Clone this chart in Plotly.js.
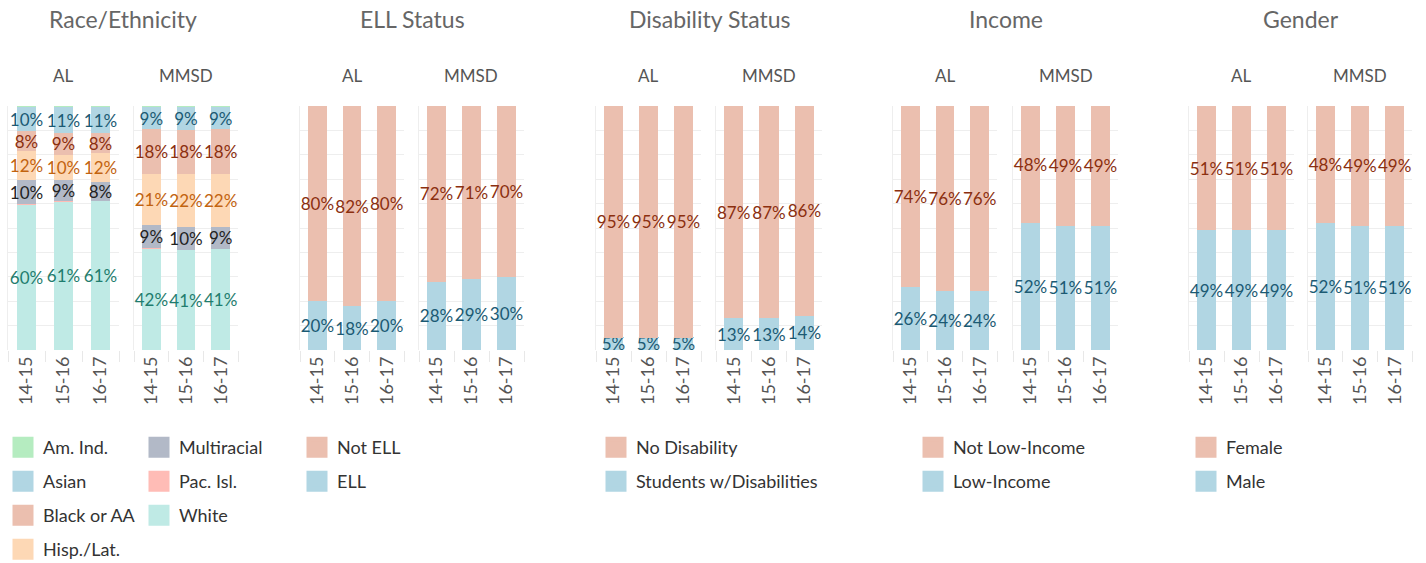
<!DOCTYPE html>
<html>
<head>
<meta charset="utf-8">
<script src="https://cdn.plot.ly/plotly-3.0.1.min.js"></script>
<style>html,body{margin:0;padding:0;background:#fff;}#chart{width:1426px;height:563px;}</style>
</head>
<body>
<div id="chart"></div>
<script>
// ---------- DATA ----------
const years = ['14-15', '15-16', '16-17'];
const groupTitles = ['Race/Ethnicity', 'ELL Status', 'Disability Status', 'Income', 'Gender'];
const districts = ['AL', 'MMSD'];

// Race/Ethnicity (% of students), AL and MMSD
const amIndAL = [0.5, 0.5, 0.5];
const amIndMMSD = [0.5, 0.5, 0.5];
const asianAL = [9.9, 10.6, 10.6];
const asianMMSD = [9.0, 9.4, 9.0];
const blackAL = [8.2, 8.9, 8.3];
const blackMMSD = [18.2, 17.8, 18.3];
const hispAL = [11.9, 10.2, 11.6];
const hispMMSD = [21.2, 21.7, 21.6];
const multiAL = [9.7, 8.8, 7.9];
const multiMMSD = [9.4, 9.6, 9.2];
const pacAL = [0.2, 0.2, 0.2];
const pacMMSD = [0.2, 0.2, 0.2];
const whiteAL = [59.6, 60.8, 60.9];
const whiteMMSD = [41.5, 40.8, 41.2];

// ELL Status
const ellAL = [20, 18, 20];
const notEllAL = [80, 82, 80];
const ellMMSD = [28, 29, 30];
const notEllMMSD = [72, 71, 70];

// Disability Status
const disAL = [5, 5, 5];
const noDisAL = [95, 95, 95];
const disMMSD = [13, 13, 14];
const noDisMMSD = [87, 87, 86];

// Income
const lowAL = [26, 24, 24];
const notLowAL = [74, 76, 76];
const lowMMSD = [52, 51, 51];
const notLowMMSD = [48, 49, 49];

// Gender
const maleAL = [49, 49, 49];
const femaleAL = [51, 51, 51];
const maleMMSD = [52, 51, 51];
const femaleMMSD = [48, 49, 49];

// ---------- STYLE ----------
const C = {
  amInd: '#b5ecc0', asian: '#b1d6e3', black: '#ebbfaf', hisp: '#fdd8b5',
  multi: '#b2b9c7', pac: '#ffbcb6', white: '#bfeae5'
};
const T = {
  blue: '#1b5a73', brown: '#8b2f0f', orange: '#c2630f', dark: '#222222', teal: '#1f7d6e'
};
const W = 1426, H = 563;
const yTop = 106, yBot = 350;
const panelPx = [[8,119],[134,238],[300,404],[419,524],[596,701],[716,822],[893,997],[1013,1118],[1189,1294],[1308,1412]];
const FONT = 'Lato, "Open Sans", sans-serif';

const pct = v => Math.round(v) + '%';

function bar(name, vals, color, txtColor, panel, showText) {
  const sfx = panel === 1 ? '' : String(panel);
  return {
    type: 'bar', name: name, x: years, y: vals,
    xaxis: 'x' + sfx, yaxis: 'y' + sfx,
    marker: {color: color, line: {width: 0}},
    text: showText ? vals.map(pct) : vals.map(() => ''),
    textposition: 'inside', insidetextanchor: 'middle', textangle: 0,
    constraintext: 'none', cliponaxis: false,
    textfont: {family: FONT, size: 17, color: txtColor},
    showlegend: false, hoverinfo: 'name+y'
  };
}
function legendItem(name, color, legend) {
  return {
    type: 'scatter', mode: 'markers', x: [null], y: [null], xaxis: 'x', yaxis: 'y',
    name: name, legend: legend, legendgroup: name, hoverinfo: 'skip',
    marker: {symbol: 'square', size: 16, color: color, line: {color: color, width: 5}}
  };
}

const data = [];
// Race (stack bottom -> top)
[[whiteAL, whiteMMSD, 'White', C.white, T.teal, true],
 [pacAL, pacMMSD, 'Pac. Isl.', C.pac, T.dark, false],
 [multiAL, multiMMSD, 'Multiracial', C.multi, T.dark, true],
 [hispAL, hispMMSD, 'Hisp./Lat.', C.hisp, T.orange, true],
 [blackAL, blackMMSD, 'Black or AA', C.black, T.brown, true],
 [asianAL, asianMMSD, 'Asian', C.asian, T.blue, true],
 [amIndAL, amIndMMSD, 'Am. Ind.', C.amInd, T.dark, false]
].forEach(r => {
  data.push(bar(r[2], r[0], r[3], r[4], 1, r[5]));
  data.push(bar(r[2], r[1], r[3], r[4], 2, r[5]));
});
// Two-category groups
[[ellAL, ellMMSD, notEllAL, notEllMMSD, 'ELL', 'Not ELL', 3],
 [disAL, disMMSD, noDisAL, noDisMMSD, 'Students w/Disabilities', 'No Disability', 5],
 [lowAL, lowMMSD, notLowAL, notLowMMSD, 'Low-Income', 'Not Low-Income', 7],
 [maleAL, maleMMSD, femaleAL, femaleMMSD, 'Male', 'Female', 9]
].forEach(g => {
  data.push(bar(g[4], g[0], C.asian, T.blue, g[6], true));
  data.push(bar(g[4], g[1], C.asian, T.blue, g[6] + 1, true));
  data.push(bar(g[5], g[2], C.black, T.brown, g[6], true));
  data.push(bar(g[5], g[3], C.black, T.brown, g[6] + 1, true));
});

// Legend entries
data.push(legendItem('Am. Ind.', C.amInd, 'legend'));
data.push(legendItem('Asian', C.asian, 'legend'));
data.push(legendItem('Black or AA', C.black, 'legend'));
data.push(legendItem('Hisp./Lat.', C.hisp, 'legend'));
data.push(legendItem('Multiracial', C.multi, 'legend2'));
data.push(legendItem('Pac. Isl.', C.pac, 'legend2'));
data.push(legendItem('White', C.white, 'legend2'));
data.push(legendItem('Not ELL', C.black, 'legend3'));
data.push(legendItem('ELL', C.asian, 'legend3'));
data.push(legendItem('No Disability', C.black, 'legend4'));
data.push(legendItem('Students w/Disabilities', C.asian, 'legend4'));
data.push(legendItem('Not Low-Income', C.black, 'legend5'));
data.push(legendItem('Low-Income', C.asian, 'legend5'));
data.push(legendItem('Female', C.black, 'legend6'));
data.push(legendItem('Male', C.asian, 'legend6'));

const layout = {
  width: W, height: H,
  margin: {l: 0, r: 0, t: 0, b: 0, autoexpand: false},
  paper_bgcolor: '#ffffff', plot_bgcolor: '#ffffff',
  barmode: 'stack', bargap: 0.46,
  font: {family: FONT, color: '#555555'},
  uniformtext: {mode: 'show', minsize: 17},
  showlegend: true,
  annotations: []
};

panelPx.forEach((p, i) => {
  const n = i + 1;
  const sfx = n === 1 ? '' : String(n);
  layout['xaxis' + sfx] = {
    domain: [p[0] / W, p[1] / W], anchor: 'y' + sfx,
    type: 'category', categoryorder: 'array', categoryarray: years,
    tickson: 'boundaries', ticks: 'outside', ticklen: 11, tickcolor: '#e8e8e8', tickwidth: 1,
    ticklabelstandoff: 2,
    showgrid: false, zeroline: false, showline: false,
    tickangle: -90, tickfont: {family: FONT, size: 18, color: '#555555'},
    fixedrange: true
  };
  layout['yaxis' + sfx] = {
    domain: [(H - yBot) / H, (H - yTop) / H], anchor: 'x' + sfx,
    range: [0, 100], dtick: 10, showticklabels: false, ticks: '',
    gridcolor: '#eeeeee', gridwidth: 1, zeroline: false,
    showline: true, linecolor: '#eeeeee', linewidth: 1, fixedrange: true
  };
  layout.annotations.push({
    text: districts[i % 2], xref: 'x' + sfx + ' domain', yref: 'paper',
    x: 0.5, y: 1 - 75 / H, xanchor: 'center', yanchor: 'middle', showarrow: false,
    font: {family: FONT, size: 17, color: '#555555'}
  });
});

groupTitles.forEach((t, g) => {
  const l = panelPx[2 * g][0], r = panelPx[2 * g + 1][1];
  layout.annotations.push({
    text: t, xref: 'paper', yref: 'paper', x: ((l + r) / 2) / W, y: 1 - 19 / H,
    xanchor: 'center', yanchor: 'middle', showarrow: false,
    font: {family: FONT, size: 23, color: '#666666'}
  });
});

const legendBase = {
  y: 1 - 429 / H, xanchor: 'left', yanchor: 'top', orientation: 'v',
  traceorder: 'grouped', tracegroupgap: 7.6, bgcolor: 'rgba(0,0,0,0)',
  borderwidth: 0, font: {family: FONT, size: 18, color: '#333333'},
  itemclick: false, itemdoubleclick: false
};
const legendX = {legend: 3, legend2: 139, legend3: 297, legend4: 596, legend5: 913, legend6: 1186};
Object.keys(legendX).forEach(k => {
  layout[k] = Object.assign({}, legendBase, {x: legendX[k] / W});
});

Plotly.newPlot('chart', data, layout, {displayModeBar: false, staticPlot: true});
</script>
</body>
</html>
